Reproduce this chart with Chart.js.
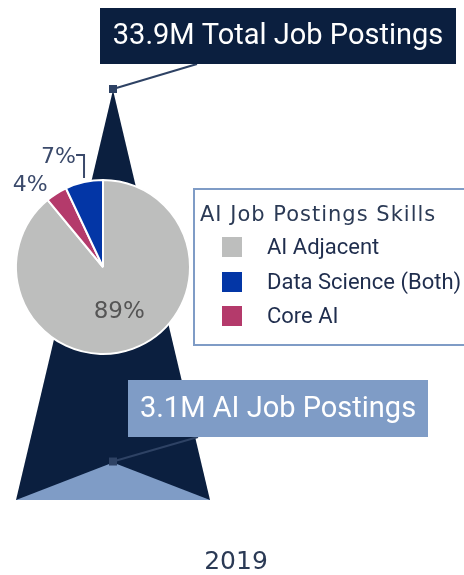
<!DOCTYPE html>
<html>
<head>
<meta charset="utf-8">
<script src="https://cdn.jsdelivr.net/npm/chart.js@4"></script>
<style>
  html, body { margin: 0; padding: 0; background: #fff; overflow: hidden; }
  #wrap { position: relative; width: 464px; height: 575px; overflow: hidden; }
  #wrap canvas { position: absolute; left: 0; top: 0; }
  #legend {
    position: absolute; left: 193px; top: 188px; width: 300px; height: 158px;
    border: 2px solid #7f9cc6; box-sizing: border-box; color: #1f2d4d;
  }
  #legend .title { position: absolute; left: 5px; top: 12px; font: 21px "DejaVu Sans"; letter-spacing: 1px; color: #2b3a55; white-space: nowrap; }
  #legend .item { position: absolute; left: 27px; height: 20px; white-space: nowrap; font: 22px Roboto; line-height: 20px; }
  #legend .sw { display: inline-block; width: 20px; height: 20px; vertical-align: top; margin-right: 25px; }
  #year { position: absolute; left: 0; width: 472px; top: 546px; text-align: center; font: 25px "DejaVu Sans"; color: #2b3a55; }
</style>
</head>
<body>
<div id="wrap">
  <canvas id="peaks" width="464" height="575"></canvas>
  <canvas id="pie" width="464" height="575"></canvas>
  <div id="legend"></div>
  <div id="year"></div>
</div>
<script>
const years = ['2019'];
const totalPostings = [33.9];   // millions
const aiPostings = [3.1];       // millions
const skillLabels = ['AI Adjacent', 'Data Science (Both)', 'Core AI'];
const skillShares = [89, 7, 4];
const skillColors = ['#bdbebd', '#0336a6', '#b43a6b'];
// order the slices are drawn clockwise from 12 o'clock
const sliceOrder = [0, 2, 1];

const navy = '#0b1f3f';
const lightBlue = '#7f9cc6';

const peak = v => [{ x: 0, y: 0 }, { x: 1, y: v }, { x: 2, y: 0 }];

const calloutPlugin = {
  id: 'callouts',
  afterDatasetsDraw(chart) {
    const { ctx, scales: { x, y } } = chart;
    const boxes = [
      { v: totalPostings[0], text: totalPostings[0] + 'M Total Job Postings', x: 100, y: 8, w: 356, h: 56, bg: navy, anchor: 97 },
      { v: aiPostings[0], text: aiPostings[0] + 'M AI Job Postings', x: 128, y: 380, w: 300, h: 57, bg: lightBlue, anchor: 70 }
    ];
    ctx.save();
    boxes.forEach(b => {
      const px = x.getPixelForValue(1), py = y.getPixelForValue(b.v) - 1;
      ctx.strokeStyle = '#2e4264';
      ctx.lineWidth = 2;
      ctx.beginPath();
      ctx.moveTo(px, py);
      ctx.lineTo(b.x + b.anchor, b.y + b.h);
      ctx.stroke();
      ctx.fillStyle = '#2e4264';
      ctx.fillRect(px - 4, py - 4, 8, 8);
      ctx.fillStyle = b.bg;
      ctx.fillRect(b.x, b.y, b.w, b.h);
      ctx.fillStyle = '#fff';
      ctx.font = '29px Roboto';
      ctx.textAlign = 'center';
      ctx.textBaseline = 'middle';
      ctx.fillText(b.text, b.x + b.w / 2, b.y + b.h / 2 + 1);
    });
    ctx.restore();
  }
};

new Chart(document.getElementById('peaks'), {
  type: 'line',
  data: {
    datasets: [
      { data: peak(aiPostings[0]), backgroundColor: lightBlue, borderWidth: 0, fill: 'origin', pointRadius: 0, tension: 0, order: 0 },
      { data: peak(totalPostings[0]), backgroundColor: navy, borderWidth: 0, fill: 'origin', pointRadius: 0, tension: 0, order: 1 }
    ]
  },
  options: {
    responsive: false,
    animation: false,
    layout: { padding: { left: 16, right: 254, top: 90, bottom: 75 } },
    scales: {
      x: { type: 'linear', min: 0, max: 2, display: false },
      y: { min: 0, max: totalPostings[0], display: false }
    },
    plugins: { legend: { display: false }, tooltip: { enabled: false } }
  },
  plugins: [calloutPlugin]
});

const pieLabelPlugin = {
  id: 'pieLabels',
  afterDatasetsDraw(chart) {
    const { ctx } = chart;
    const arcs = chart.getDatasetMeta(0).data;
    ctx.save();
    ctx.textBaseline = 'middle';
    arcs.forEach((arc, i) => {
      const k = sliceOrder[i];
      const { x, y, startAngle, endAngle, outerRadius } = arc.getProps(['x', 'y', 'startAngle', 'endAngle', 'outerRadius'], true);
      const mid = (startAngle + endAngle) / 2;
      const label = skillShares[k] + '%';
      ctx.font = '22px "DejaVu Sans"';
      if (k === 0) {
        ctx.fillStyle = '#555';
        ctx.textAlign = 'center';
        ctx.font = '23px "DejaVu Sans"';
        ctx.fillText(label, x + Math.cos(mid) * outerRadius * 0.55, y + Math.sin(mid) * outerRadius * 0.55);
      } else if (k === 1) {
        const ex = x + Math.cos(mid) * outerRadius, ey = y + Math.sin(mid) * outerRadius;
        ctx.strokeStyle = '#3b4a6b';
        ctx.lineWidth = 2;
        ctx.beginPath();
        ctx.moveTo(ex, ey - 4);
        ctx.lineTo(ex, ey - 27);
        ctx.lineTo(ex - 8, ey - 27);
        ctx.stroke();
        ctx.fillStyle = '#3b4a6b';
        ctx.textAlign = 'right';
        ctx.fillText(label, ex - 8, ey - 25);
      } else {
        const ex = x + Math.cos(mid) * (outerRadius + 30), ey = y + Math.sin(mid) * (outerRadius + 30);
        ctx.fillStyle = '#3b4a6b';
        ctx.textAlign = 'center';
        ctx.fillText(label, ex - 10, ey + 17);
      }
    });
    ctx.restore();
  }
};

new Chart(document.getElementById('pie'), {
  type: 'pie',
  data: {
    labels: sliceOrder.map(i => skillLabels[i]),
    datasets: [{
      data: sliceOrder.map(i => skillShares[i]),
      backgroundColor: sliceOrder.map(i => skillColors[i]),
      borderColor: '#fff',
      borderWidth: 2
    }]
  },
  options: {
    responsive: false,
    animation: false,
    layout: { padding: { left: 15, right: 273, top: 179, bottom: 220 } },
    plugins: { legend: { display: false }, tooltip: { enabled: false } }
  },
  plugins: [pieLabelPlugin]
});

const legend = document.getElementById('legend');
legend.innerHTML = '<div class="title">AI Job Postings Skills</div>' +
  skillLabels.map((l, i) => `<div class="item" style="top:${47 + i * 34.5}px"><span class="sw" style="background:${skillColors[i]}"></span>${l}</div>`).join('');
document.getElementById('year').textContent = years[0];
</script>
</body>
</html>
